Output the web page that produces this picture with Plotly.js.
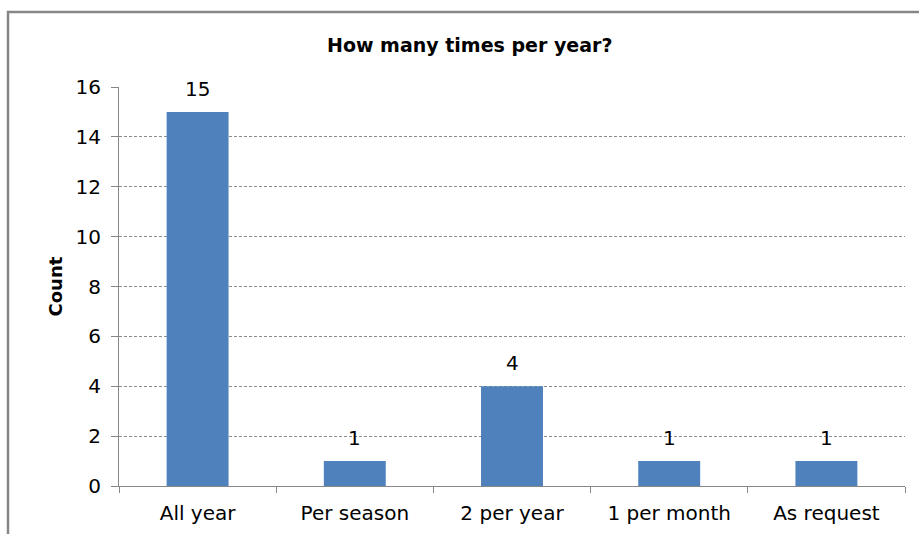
<!DOCTYPE html>
<html>
<head>
<meta charset="utf-8">
<script src="https://cdn.plot.ly/plotly-3.0.1.min.js"></script>
<style>
  html, body { margin: 0; padding: 0; background: #fff; }
  #chart { width: 919px; height: 534px; }
</style>
</head>
<body>
<div id="chart"></div>
<script>
// Survey answers: how often the activity happens per year
const categories = ['All year', 'Per season', '2 per year', '1 per month', 'As request'];
const counts = [15, 1, 4, 1, 1];
const yTicks = [0, 2, 4, 6, 8, 10, 12, 14, 16];

const FONT = 'DejaVu Sans, Tahoma, sans-serif';
const AXIS_GREY = '#868686';

const bars = {
  type: 'bar',
  x: categories,
  y: counts,
  marker: { color: '#4F81BD', line: { width: 0 } },
  hoverinfo: 'x+y'
};

// value labels above each bar, positioned from the bar's own value
const valueLabels = categories.map((c, i) => ({
  x: c, y: counts[i], xref: 'x', yref: 'y',
  text: String(counts[i]),
  showarrow: false,
  yanchor: 'middle', yshift: 23,
  font: { family: FONT, size: 20, color: '#000' }
}));

const layout = {
  width: 919, height: 534,
  margin: { l: 119, r: 14, t: 87, b: 48 },
  paper_bgcolor: '#fff', plot_bgcolor: '#fff',
  showlegend: false,
  bargap: 0.606,
  font: { family: FONT, size: 20, color: '#000' },
  xaxis: {
    type: 'category',
    showline: true, linecolor: AXIS_GREY, linewidth: 1,
    ticks: 'outside', tickson: 'boundaries', ticklen: 6, tickcolor: AXIS_GREY,
    showgrid: false, zeroline: false,
    ticklabelstandoff: 9,
    tickfont: { family: FONT, size: 20, color: '#000' }
  },
  yaxis: {
    range: [0, 16],
    tickvals: yTicks,
    showline: true, linecolor: AXIS_GREY, linewidth: 1,
    ticks: 'outside', ticklen: 7, tickcolor: AXIS_GREY,
    showgrid: true, gridcolor: '#8c8c8c', griddash: '3px,2px', gridwidth: 1,
    zeroline: false,
    ticklabelstandoff: 6,
    tickfont: { family: FONT, size: 20, color: '#000' }
  },
  annotations: [
    {
      text: 'How many times per year?',
      xref: 'paper', yref: 'paper',
      x: 0.446, y: (486 - 45) / 399,
      xanchor: 'center', yanchor: 'middle',
      showarrow: false,
      font: { family: FONT, size: 19, color: '#000', weight: 'bold' }
    },
    {
      text: 'Count',
      xref: 'paper', yref: 'paper',
      x: (55 - 119) / 786, y: 0.5,
      xanchor: 'center', yanchor: 'middle',
      textangle: -90,
      showarrow: false,
      font: { family: FONT, size: 18, color: '#000', weight: 'bold' }
    }
  ].concat(valueLabels),
  shapes: [
    {
      // chart frame: left and top edges
      type: 'path',
      xref: 'paper', yref: 'paper',
      path: 'M ' + ((8 - 119) / 786) + ',' + ((486 - 540) / 399) +
            ' L ' + ((8 - 119) / 786) + ',' + ((486 - 12) / 399) +
            ' L ' + ((925 - 119) / 786) + ',' + ((486 - 12) / 399),
      line: { color: '#878787', width: 2.5 },
      layer: 'above'
    }
  ]
};

Plotly.newPlot('chart', [bars], layout, { displayModeBar: false, staticPlot: true });
</script>
</body>
</html>
